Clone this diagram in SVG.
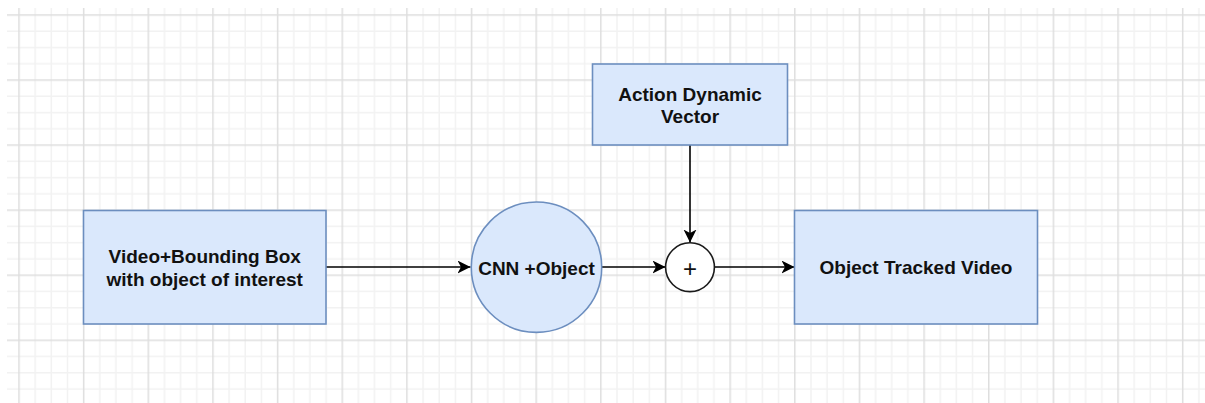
<svg xmlns="http://www.w3.org/2000/svg" width="1205" height="403" viewBox="0 0 1205 403">
  <style>
    .box { fill: #dae8fc; stroke: #6c8ebf; stroke-width: 1.6; }
    .sum { fill: #ffffff; stroke: #1a1a1a; stroke-width: 1.6; }
    .edge { fill: none; stroke: #000000; stroke-width: 1.6; }
    .label { font-family: "Liberation Sans", Arial, sans-serif; font-weight: bold; font-size: 19px; fill: #111111; text-anchor: middle; dominant-baseline: central; }
    .plus { font-size: 24px; font-weight: normal; }
  </style>
  <defs>
    <!-- background grid: major cells split into 4x4 minor cells -->
    <pattern id="grid" patternUnits="userSpaceOnUse" x="18.25" y="14.25" width="64.65" height="65.05">
      <g fill="#f2f2f2">
        <rect x="16.16" y="0" width="1.5" height="65.05"/>
        <rect x="32.32" y="0" width="1.5" height="65.05"/>
        <rect x="48.49" y="0" width="1.5" height="65.05"/>
        <rect x="0" y="16.26" width="64.65" height="1.5"/>
        <rect x="0" y="32.52" width="64.65" height="1.5"/>
        <rect x="0" y="48.79" width="64.65" height="1.5"/>
      </g>
      <g fill="#dedede">
        <rect x="0" y="0" width="1.5" height="65.05"/>
        <rect x="0" y="0" width="64.65" height="1.5"/>
      </g>
    </pattern>
    <marker id="arrow" markerUnits="userSpaceOnUse" markerWidth="14" markerHeight="14" refX="13" refY="6.5" orient="auto">
      <path d="M0,0 L13,6.5 L0,13 L3.5,6.5 Z" fill="#000000"/>
    </marker>
  </defs>

  <rect x="0" y="0" width="1205" height="403" fill="#ffffff"/>
  <rect x="7" y="8" width="1198" height="395" fill="url(#grid)"/>

  <g id="connectors">
    <line class="edge" x1="326" y1="267" x2="470.5" y2="267" marker-end="url(#arrow)"/>
    <line class="edge" x1="602" y1="267" x2="665.5" y2="267" marker-end="url(#arrow)"/>
    <line class="edge" x1="714.5" y1="267" x2="794.5" y2="267" marker-end="url(#arrow)"/>
    <line class="edge" x1="690" y1="145" x2="690" y2="242.5" marker-end="url(#arrow)"/>
  </g>

  <g id="node-input">
    <rect class="box" x="83.5" y="210.5" width="242.5" height="113.5"/>
    <text class="label" x="204.75" y="256.5">Video+Bounding Box</text>
    <text class="label" x="204.75" y="279">with object of interest</text>
  </g>

  <g id="node-cnn">
    <circle class="box" cx="536.5" cy="267.2" r="65.2"/>
    <text class="label" x="536.5" y="268">CNN +Object</text>
  </g>

  <g id="node-action">
    <rect class="box" x="592.5" y="64" width="195" height="81"/>
    <text class="label" x="690" y="94">Action Dynamic</text>
    <text class="label" x="690" y="116.5">Vector</text>
  </g>

  <g id="node-sum">
    <circle class="sum" cx="690" cy="267.2" r="24.4"/>
    <text class="label plus" x="690" y="268.5">+</text>
  </g>

  <g id="node-output">
    <rect class="box" x="794.5" y="210.5" width="243" height="113.5"/>
    <text class="label" x="916" y="267.5">Object Tracked Video</text>
  </g>
</svg>
